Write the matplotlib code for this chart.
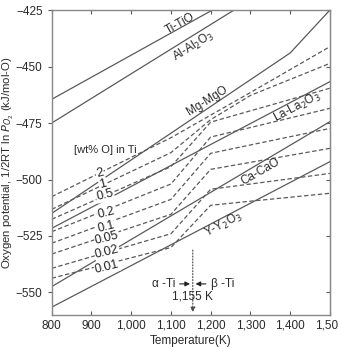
import matplotlib
matplotlib.use('Agg')
import matplotlib.pyplot as plt
from matplotlib.ticker import FuncFormatter

plt.rcParams['font.family'] = ['Liberation Sans', 'DejaVu Sans']

# metal / oxide equilibria (solid lines)
t_line = [800, 1500]
ti_tio = [-464.5, -396.1]
al_al2o3 = [-475.0, -398.7]
la_la2o3 = [-521.6, -456.7]
ca_cao = [-547.4, -474.4]
y_y2o3 = [-556.5, -492.1]
t_mg = [800, 1400, 1500]
mg_mgo = [-515.0, -444.0, -425.0]

# oxygen in Ti (dashed lines), wt% O
t_ti = [800, 1100, 1200, 1300, 1500]
o_labels = ['2', '1', '0.5', '0.2', '0.1', '0.05', '0.02', '0.01']
o_2 = [-507.6, -481.5, -471.5, -461.5, -441.2]
o_1 = [-513.2, -488.1, -473.5, -462.8, -448.6]
o_05 = [-517.6, -494.3, -474.6, -469.6, -459.6]
o_02 = [-523.1, -502.0, -481.2, -477.0, -468.5]
o_01 = [-528.2, -508.8, -488.4, -484.7, -477.4]
o_005 = [-533.0, -515.4, -495.5, -492.4, -486.2]
o_002 = [-539.3, -524.0, -504.3, -502.0, -497.3]
o_001 = [-543.7, -530.1, -511.4, -509.6, -506.1]
o_lines = [o_2, o_1, o_05, o_02, o_01, o_005, o_002, o_001]
o_lab_x = [921, 929, 934, 936, 936, 939, 939, 939]
o_lab_y = [-497.1, -502.0, -506.9, -514.8, -521.0, -525.9, -532.1, -538.8]

gray = '#5a5a5a'
txt = '#2a2a2a'

fig = plt.figure(figsize=(3.38, 3.47), dpi=100)
ax = fig.add_axes([0.153, 0.092, 0.823, 0.879])

for v in [ti_tio, al_al2o3, la_la2o3, ca_cao, y_y2o3]:
    ax.plot(t_line, v, color=gray, lw=0.9)
ax.plot(t_mg, mg_mgo, color=gray, lw=0.9)

for v in o_lines:
    ax.plot(t_ti, v, color=gray, lw=0.9, ls=(0, (3.5, 2)))

for lab, x, y in zip(o_labels, o_lab_x, o_lab_y):
    ax.text(x, y, lab, fontsize=9, color='#222222', ha='center', va='center', rotation=14,
            bbox=dict(boxstyle='square,pad=0.05', fc='white', ec='none'))

ax.text(934, -487, '[wt% O] in Ti', fontsize=8, color=txt, ha='center', va='center')

ax.text(1122, -431.2, 'Ti-TiO', fontsize=8.5, color=txt, ha='center', va='center', rotation=29)
ax.text(1158, -441, 'Al-Al$_2$O$_3$', fontsize=8.5, color=txt, ha='center', va='center', rotation=32)
ax.text(1190, -465.3, 'Mg-MgO', fontsize=8.5, color=txt, ha='center', va='center', rotation=32)
ax.text(1419, -468, 'La-La$_2$O$_3$', fontsize=8.5, color=txt, ha='center', va='center', rotation=28)
ax.text(1326, -496.7, 'Ca-CaO', fontsize=8.5, color=txt, ha='center', va='center', rotation=30)
ax.text(1233, -520, 'Y-Y$_2$O$_3$', fontsize=8.5, color=txt, ha='center', va='center', rotation=28)

# alpha / beta transition
ax.annotate('', xy=(1155, -560), xytext=(1155, -530),
            arrowprops=dict(arrowstyle='-|>', color='#444444', lw=0.8, ls=':', mutation_scale=7))
ax.annotate('', xy=(1155, -546.2), xytext=(1115, -546.2),
            arrowprops=dict(arrowstyle='-|>', color='#222222', lw=0.8, mutation_scale=7))
ax.annotate('', xy=(1155, -546.2), xytext=(1195, -546.2),
            arrowprops=dict(arrowstyle='-|>', color='#222222', lw=0.8, mutation_scale=7))
ax.text(1110, -546.2, '\u03b1 -Ti', fontsize=8.5, color=txt, ha='right', va='center')
ax.text(1200, -546.2, '\u03b2 -Ti', fontsize=8.5, color=txt, ha='left', va='center')
ax.text(1155, -551.8, '1,155 K', fontsize=8.5, color=txt, ha='center', va='center')

ax.set_xlim(800, 1500)
ax.set_ylim(-560, -425)
ax.set_xticks(range(800, 1501, 100))
ax.set_yticks(range(-550, -424, 25))
ax.xaxis.set_major_formatter(FuncFormatter(lambda v, p: f'{int(v):,}'))
ax.tick_params(axis='x', direction='in', top=True, length=3, labelsize=8.5, colors=gray, labelcolor=txt)
ax.tick_params(axis='y', direction='out', length=3, labelsize=8.5, colors=gray, labelcolor=txt)
right = ax.secondary_yaxis('right')
right.set_yticks(range(-550, -424, 25))
right.tick_params(direction='in', length=3, colors=gray, labelright=False)
right.spines['right'].set_color('#888888')
for s in ax.spines.values():
    s.set_color('#888888')
    s.set_linewidth(1.0)

ax.set_xlabel('Temperature(K)', fontsize=8.5, color=txt, labelpad=2)
ax.set_ylabel('Oxygen potential, 1/2RT ln $P_{O_2}$ (kJ/mol-O)', fontsize=8.2, color=txt, labelpad=0)

fig.savefig('out.png', dpi=100)
